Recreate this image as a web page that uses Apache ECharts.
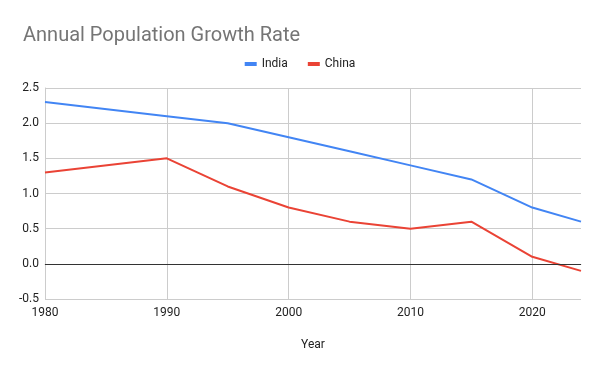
<!DOCTYPE html>
<html>
<head>
<meta charset="utf-8">
<script src="https://cdn.jsdelivr.net/npm/echarts@6/dist/echarts.min.js"></script>
<style>html,body{margin:0;padding:0;background:#fff}#c{width:600px;height:371px}</style>
</head>
<body>
<div id="c"></div>
<script>
const years = [1980, 1990, 1995, 2000, 2005, 2010, 2015, 2020, 2024];
const india = [2.3, 2.1, 2.0, 1.8, 1.6, 1.4, 1.2, 0.8, 0.6];
const china = [1.3, 1.5, 1.1, 0.8, 0.6, 0.5, 0.6, 0.1, -0.1];
const seriesNames = ['India', 'China'];

const font = 'Roboto, Arial, sans-serif';
const chart = echarts.init(document.getElementById('c'));
chart.setOption({
  animation: false,
  backgroundColor: '#fff',
  title: {
    text: 'Annual Population Growth Rate',
    left: 18, top: 21,
    textStyle: { fontFamily: font, fontSize: 20, fontWeight: 'normal', color: '#757575' }
  },
  legend: {
    data: seriesNames,
    top: 53, left: 'center',
    icon: 'rect', itemWidth: 12, itemHeight: 4, itemGap: 20,
    textStyle: { fontFamily: font, fontSize: 12, color: '#222' }
  },
  grid: { left: 45, right: 19, top: 88, bottom: 72, containLabel: false },
  xAxis: {
    type: 'value', min: 1980, max: 2024, interval: 10,
    name: 'Year', nameLocation: 'middle', nameGap: 40,
    nameTextStyle: { fontFamily: font, fontSize: 12, color: '#222' },
    axisLine: { show: true, lineStyle: { color: '#ccc' } },
    axisTick: { show: false },
    axisLabel: { fontFamily: font, fontSize: 12, color: '#222', margin: 8, showMaxLabel: false,
      formatter: v => (v % 10 === 0 ? String(v) : '') },
    splitLine: { show: true, showMinLine: false, showMaxLine: false, lineStyle: { color: '#ccc' } }
  },
  yAxis: {
    type: 'value', min: -0.5, max: 2.5, interval: 0.5,
    axisLine: { show: true, lineStyle: { color: '#ccc' } },
    axisTick: { show: false },
    axisLabel: { fontFamily: font, fontSize: 12, color: '#222', margin: 6, formatter: v => v.toFixed(1) },
    splitLine: { show: true, lineStyle: { color: '#ccc' } }
  },
  series: [
    {
      name: 'India', type: 'line', color: '#4285f4',
      data: years.map((y, i) => [y, india[i]]),
      showSymbol: false, lineStyle: { width: 2 }
    },
    {
      name: 'China', type: 'line', color: '#ea4335',
      data: years.map((y, i) => [y, china[i]]),
      showSymbol: false, lineStyle: { width: 2 },
      markLine: {
        silent: true, symbol: 'none', label: { show: false },
        lineStyle: { color: '#333', width: 1, type: 'solid' },
        data: [{ yAxis: 0 }]
      }
    }
  ]
});
</script>
</body>
</html>
